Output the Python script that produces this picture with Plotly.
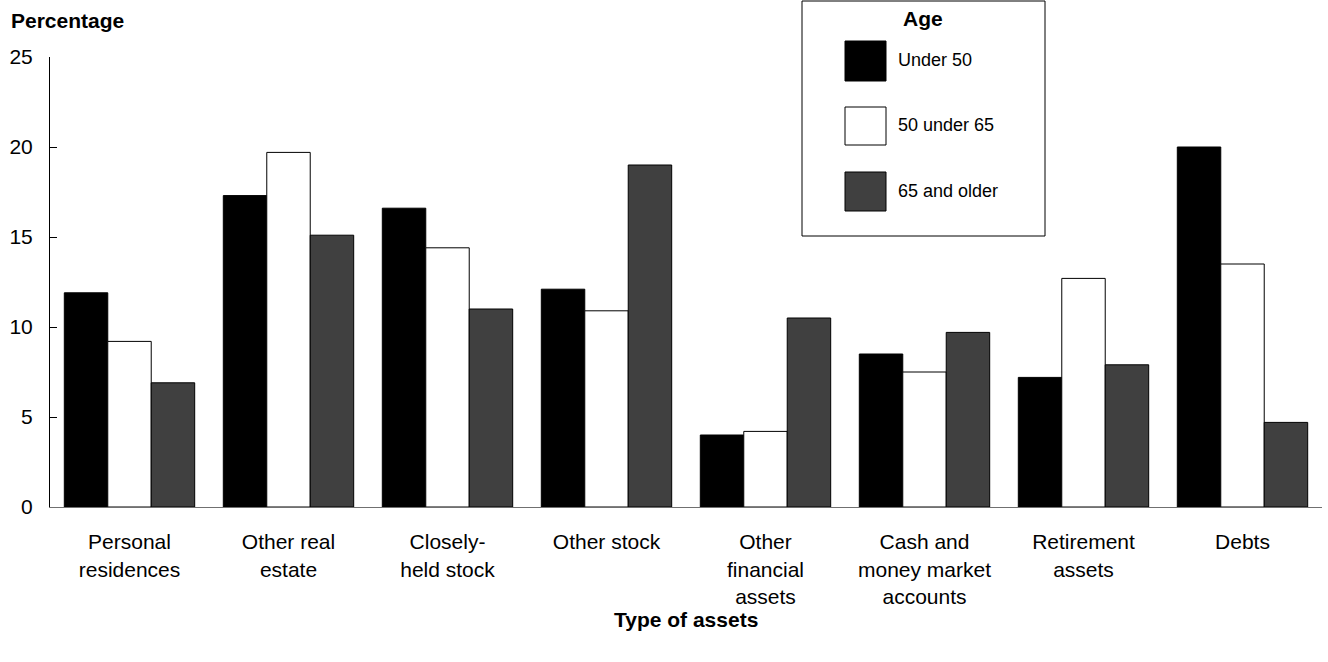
import plotly.graph_objects as go

categories = ["Personal<br>residences", "Other real<br>estate", "Closely-<br>held stock", "Other stock",
              "Other<br>financial<br>assets", "Cash and<br>money market<br>accounts", "Retirement<br>assets", "Debts"]
under_50 = [11.9, 17.3, 16.6, 12.1, 4.0, 8.5, 7.2, 20.0]
from_50_to_65 = [9.2, 19.7, 14.4, 10.9, 4.2, 7.5, 12.7, 13.5]
over_65 = [6.9, 15.1, 11.0, 19.0, 10.5, 9.7, 7.9, 4.7]
series_names = ["Under 50", "50 under 65", "65 and older"]
colors = ["#000000", "#ffffff", "#404040"]

W, H = 1328, 662
L, T = 50, 57
pw, ph = 1272, 450
R, B = W - L - pw, H - T - ph

def px(x):
    return (x - L) / pw

def py(y):
    return (T + ph - y) / ph

fig = go.Figure()
for name, vals, col in zip(series_names, [under_50, from_50_to_65, over_65], colors):
    fig.add_trace(go.Bar(x=categories, y=vals, name=name, marker_color=col,
                         marker_line=dict(color="#000000", width=1), showlegend=False))

font = dict(family="Liberation Sans, Arial, sans-serif", size=21, color="#000000")

# hand-drawn legend box like the original
shapes = [dict(type="rect", xref="paper", yref="paper", x0=px(802), x1=px(1045), y0=py(236), y1=py(1),
               line=dict(color="#000000", width=1), fillcolor="#ffffff")]
annotations = [dict(text="<b>Age</b>", xref="paper", yref="paper", x=px(923), y=py(18),
                    showarrow=False, font=font, xanchor="center", yanchor="middle")]
rows = [(41, 81, 60), (107, 145, 125), (172, 211, 191)]
for (top, bot, mid), name, col in zip(rows, series_names, colors):
    shapes.append(dict(type="rect", xref="paper", yref="paper", x0=px(845), x1=px(886),
                       y0=py(bot), y1=py(top), fillcolor=col, line=dict(color="#000000", width=1)))
    annotations.append(dict(text=name, xref="paper", yref="paper", x=px(896), y=py(mid),
                            showarrow=False, font=dict(font, size=18), xanchor="left", yanchor="middle"))

annotations.append(dict(text="<b>Percentage</b>", xref="paper", yref="paper", x=px(9), y=py(20),
                        showarrow=False, font=font, xanchor="left", yanchor="middle"))
annotations.append(dict(text="<b>Type of assets</b>", xref="paper", yref="paper", x=px(686), y=py(619),
                        showarrow=False, font=font, xanchor="center", yanchor="middle"))

fig.update_layout(
    width=W, height=H,
    margin=dict(l=L, r=R, t=T, b=B),
    barmode="group", bargap=0.18, bargroupgap=0,
    plot_bgcolor="#ffffff", paper_bgcolor="#ffffff",
    font=font,
    shapes=shapes, annotations=annotations,
)
fig.update_xaxes(showline=True, linecolor="#707070", linewidth=1, ticks="", showgrid=False,
                 tickfont=font, ticklabelstandoff=16)
fig.update_yaxes(range=[0, 25], dtick=5, showline=True, linecolor="#000000", linewidth=1,
                 ticks="inside", ticklen=7, tickcolor="#000000", showgrid=False, zeroline=False,
                 tickfont=font, ticklabelstandoff=12)

# drop the default body margin so the figure fills the window exactly
fig.write_html("out.html", config={"displayModeBar": False},
               post_script="document.body.style.margin='0';")
